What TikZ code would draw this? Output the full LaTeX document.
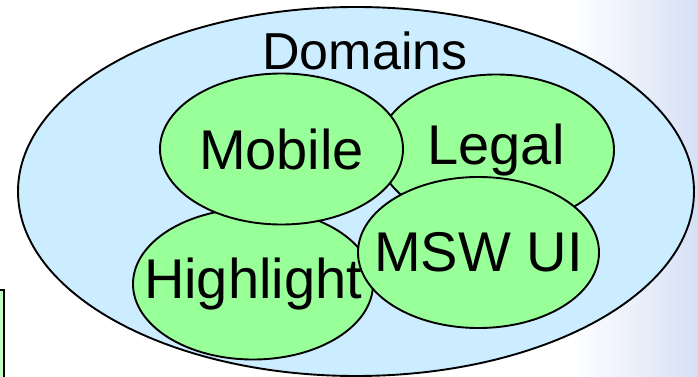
\documentclass[tikz,border=0pt]{standalone}
\usepackage{fontspec}
\setmainfont{Liberation Sans}
\usepackage{tikz}
\usetikzlibrary{shapes}
\definecolor{set_blue}{RGB}{204,236,255}
\definecolor{set_green}{RGB}{153,255,153}
\definecolor{slide_blue}{RGB}{214,224,245}

\begin{document}
\begin{tikzpicture}[x=1pt,y=-1pt,
    domain_set/.style ={ellipse, draw=black, line width=1.9pt, fill=set_blue,
      minimum width=676pt, minimum height=369pt, inner sep=0pt},
    sub_domain/.style ={ellipse, draw=black, line width=1.9pt, fill=set_green,
      minimum width=240pt, minimum height=151pt, inner sep=0pt,
      label={[inner sep=0pt, font=\fontsize{56}{60}\selectfont]center:#1}},
    set_title/.style ={anchor=base, inner sep=0pt,
      font=\fontsize{52}{56}\selectfont}]
    \useasboundingbox (0,0) rectangle (698,377);
    % slide background
    \fill[left color=white, right color=slide_blue] (570,0) rectangle (698,377);
    \draw[line width=1.4pt, fill=set_green!60] (-10,290) rectangle (4,390);
    % outer set
    \node [domain_set] (domains) at (356,191.5) {};
    \node [set_title] (domains_title) at (365,70) {Domains};
    % inner sets, back to front
    \node [sub_domain=Legal, minimum width=236pt] (legal) at (496,150) {};
    \node [sub_domain=Highlight] (highlight) at (253,284) {};
    \node [sub_domain=Mobile, minimum width=243pt] (mobile) at (281.5,149) {};
    \node [sub_domain=MSW UI, minimum width=241pt] (msw_ui) at (478.5,252.5) {};
  \end{tikzpicture}
\end{document}
